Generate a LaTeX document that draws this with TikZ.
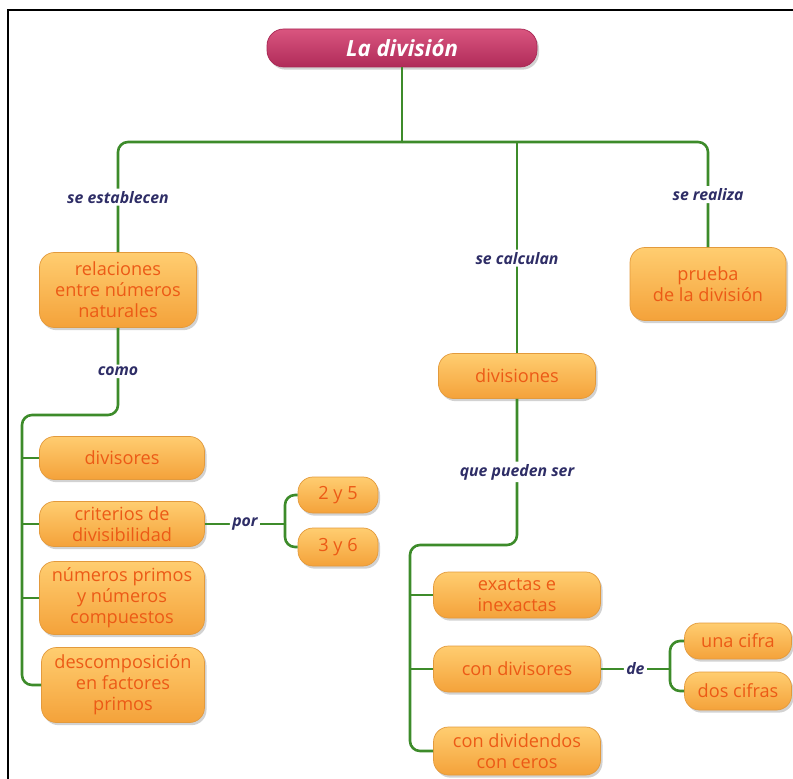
\documentclass[tikz,border=0pt]{standalone}
\usepackage{fontspec}
\setmainfont{Open Sans}
\usepackage{xcolor}
\definecolor{ramaverde}{HTML}{3D8B2A}
\definecolor{cajaarriba}{HTML}{FFCD70}
\definecolor{cajaabajo}{HTML}{F4A23A}
\definecolor{cajaborde}{HTML}{E39A3C}
\definecolor{cajatexto}{HTML}{EC5A16}
\definecolor{tituloarriba}{HTML}{D9557F}
\definecolor{tituloabajo}{HTML}{B02B59}
\definecolor{tituloborde}{HTML}{A82754}
\definecolor{enlacetinta}{HTML}{2E2D66}
\usepackage{tikz}
\usetikzlibrary{shadows}

\begin{document}
\begin{tikzpicture}[x=0.3mm,y=-0.3mm,
  rama/.style={line width=2.2pt,ramaverde,rounded corners=3mm},
  concepto/.style={rectangle,rounded corners=4.5mm,draw=cajaborde,line width=0.6pt,
    top color=cajaarriba,bottom color=cajaabajo,text=cajatexto,align=center,
    font=\fontsize{15.5}{18}\selectfont,inner sep=2pt,
    drop shadow={opacity=0.35,shadow xshift=0.6mm,shadow yshift=-0.8mm}},
  titulo/.style={rectangle,rounded corners=5mm,draw=tituloborde,line width=0.6pt,
    top color=tituloarriba,bottom color=tituloabajo,text=white,
    font=\fontsize{19}{22}\selectfont\bfseries\itshape,
    drop shadow={opacity=0.35,shadow xshift=0.6mm,shadow yshift=-0.8mm}},
  enlace/.style={fill=white,text=enlacetinta,inner sep=2pt,
    font=\fontsize{13.5}{16}\selectfont\bfseries\itshape},
  sz/.style 2 args={minimum width=#1*0.3mm,minimum height=#2*0.3mm}]
  % Fondo y marco
  \fill[white] (0,0) rectangle (793,779);
  \useasboundingbox (0,0) rectangle (793,779);
  \draw[line width=0.7mm] (8,779) -- (8,10) -- (793,10);
  % Titulo
  \node[titulo,sz={270}{38}] (division) at (402,48) {La división};
  % Primer nivel
  \node[concepto,sz={157}{75}] (relaciones) at (118,290) {relaciones\\entre números\\naturales};
  \node[concepto,sz={156}{73}] (prueba) at (708,284) {prueba\\de la división};
  \node[concepto,sz={157}{45}] (divisiones) at (517,376) {divisiones};
  % Lista izquierda
  \node[concepto,sz={165}{43}] (divisores) at (122,458) {divisores};
  \node[concepto,sz={165}{45}] (criterios) at (122,524) {criterios de\\divisibilidad};
  \node[concepto,sz={165}{73}] (primos) at (122,598) {números primos\\y números\\compuestos};
  \node[concepto,sz={163}{75}] (descomposicion) at (123,685) {descomposición\\en factores\\primos};
  \node[concepto,sz={80}{36}] (dosycinco) at (338,495) {2 y 5};
  \node[concepto,sz={80}{38}] (tresyseis) at (338,547) {3 y 6};
  % Lista derecha
  \node[concepto,sz={167}{46}] (exactas) at (517,595) {exactas e\\inexactas};
  \node[concepto,sz={167}{46}] (condivisores) at (517,669) {con divisores};
  \node[concepto,sz={167}{48}] (dividendos) at (517,751) {con dividendos\\con ceros};
  \node[concepto,sz={107}{36}] (unacifra) at (738,641) {una cifra};
  \node[concepto,sz={107}{38}] (doscifras) at (738,691) {dos cifras};
  % Ramas desde el titulo
  \coordinate (cruce) at (402,142);
  \draw[rama] (division.south) -- (cruce);
  \draw[rama] (cruce) -| node[enlace,pos=0.75]{se establecen} (relaciones.north);
  \draw[rama] (cruce) -| node[enlace,pos=0.75]{se realiza} (prueba.north);
  \draw[rama] (divisiones.north |- cruce) -- node[enlace,pos=0.55]{se calculan} (divisiones.north);
  % Ramas de la lista izquierda
  \coordinate (izq) at (22,415);
  \draw[rama] (relaciones.south) |- node[enlace,pos=0.25]{como} (izq)
    -- (izq |- descomposicion.west) -- (descomposicion.west);
  \foreach \caja in {divisores,criterios,primos}
    \draw[rama] (izq |- \caja.west) -- (\caja.west);
  \coordinate (porx) at (285,524);
  \draw[rama] (criterios.east) -- node[enlace]{por} (porx);
  \draw[rama] (porx) |- (dosycinco.west);
  \draw[rama] (porx) |- (tresyseis.west);
  % Ramas de la lista derecha
  \coordinate (der) at (410,545);
  \draw[rama] (divisiones.south) |- node[enlace,pos=0.25]{que pueden ser} (der)
    -- (der |- dividendos.west) -- (dividendos.west);
  \foreach \caja in {exactas,condivisores}
    \draw[rama] (der |- \caja.west) -- (\caja.west);
  \coordinate (dex) at (670,669);
  \draw[rama] (condivisores.east) -- node[enlace]{de} (dex);
  \draw[rama] (dex) |- (unacifra.west);
  \draw[rama] (dex) |- (doscifras.west);
\end{tikzpicture}
\end{document}
